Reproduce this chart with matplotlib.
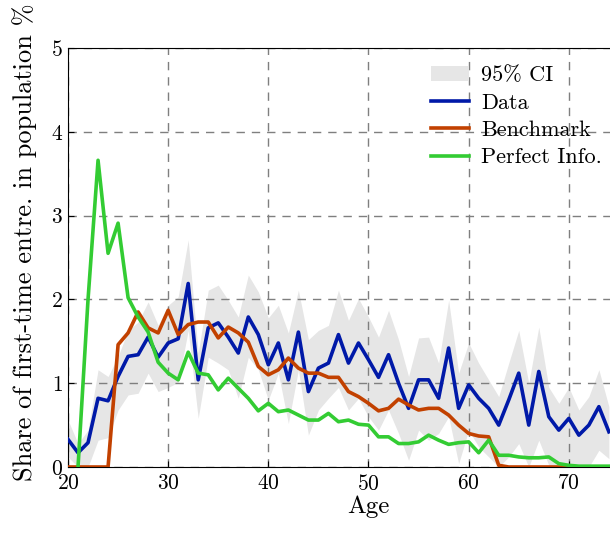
import matplotlib
matplotlib.use("Agg")
import matplotlib.pyplot as plt
import numpy as np

plt.rcParams['font.family'] = 'serif'
plt.rcParams['font.serif'] = ['cmr10', 'DejaVu Serif']
plt.rcParams['mathtext.fontset'] = 'cm'
plt.rcParams['axes.formatter.use_mathtext'] = True

ages = np.arange(20, 75)

data = [0.33, 0.17, 0.29, 0.82, 0.79, 1.08, 1.32, 1.34, 1.55, 1.31,
        1.48, 1.53, 2.19, 1.04, 1.66, 1.72, 1.55, 1.36, 1.79, 1.58,
        1.22, 1.48, 1.04, 1.61, 0.90, 1.18, 1.24, 1.58, 1.24, 1.48,
        1.28, 1.07, 1.34, 1.00, 0.70, 1.04, 1.04, 0.82, 1.42, 0.70,
        0.98, 0.82, 0.70, 0.50, 0.80, 1.12, 0.50, 1.14, 0.60, 0.44,
        0.58, 0.38, 0.50, 0.72, 0.42]

benchmark = [0.0, 0.0, 0.0, 0.0, 0.0, 1.46, 1.60, 1.85, 1.66, 1.60,
             1.87, 1.58, 1.70, 1.73, 1.73, 1.54, 1.67, 1.60, 1.49, 1.20,
             1.10, 1.16, 1.30, 1.18, 1.12, 1.12, 1.07, 1.07, 0.90, 0.84,
             0.76, 0.67, 0.70, 0.81, 0.74, 0.68, 0.70, 0.70, 0.62, 0.50,
             0.40, 0.37, 0.36, 0.02, 0.0, 0.0, 0.0, 0.0, 0.0, 0.0,
             0.0, 0.0, 0.0, 0.0, 0.0]

perfect = [np.nan, 0.0, 2.0, 3.66, 2.55, 2.91, 2.02, 1.79, 1.61, 1.25,
           1.12, 1.04, 1.37, 1.12, 1.10, 0.92, 1.06, 0.94, 0.82, 0.67,
           0.76, 0.66, 0.68, 0.62, 0.56, 0.56, 0.64, 0.54, 0.56, 0.51,
           0.50, 0.36, 0.36, 0.28, 0.28, 0.30, 0.38, 0.32, 0.27, 0.29,
           0.30, 0.17, 0.32, 0.14, 0.14, 0.12, 0.11, 0.11, 0.12, 0.04,
           0.02, 0.01, 0.01, 0.01, 0.01]

ci_upper = [0.56, 0.28, 0.44, 1.16, 1.08, 1.32, 1.63, 1.73, 1.97, 1.69,
            1.93, 2.03, 2.71, 1.36, 2.11, 2.17, 1.99, 1.79, 2.29, 2.09,
            1.78, 1.93, 1.60, 2.11, 1.52, 1.63, 1.69, 2.11, 1.75, 2.01,
            1.79, 1.55, 1.87, 1.52, 1.08, 1.54, 1.55, 1.24, 1.99, 1.12,
            1.48, 1.24, 1.04, 0.84, 1.24, 1.63, 1.00, 1.67, 0.95, 0.76,
            0.95, 0.68, 0.84, 1.16, 0.72]

ci_lower = [0.12, 0.0, 0.0, 0.32, 0.35, 0.68, 0.86, 0.88, 1.12, 0.90,
            0.95, 1.01, 1.63, 0.58, 1.31, 1.24, 1.16, 0.82, 1.31, 1.16,
            0.80, 1.12, 0.52, 1.16, 0.38, 0.68, 0.82, 0.95, 0.68, 0.82,
            0.60, 0.44, 0.68, 0.40, 0.08, 0.44, 0.32, 0.40, 0.60, 0.04,
            0.44, 0.24, 0.12, 0.0, 0.12, 0.28, 0.0, 0.32, 0.02, 0.0,
            0.0, 0.0, 0.0, 0.2, 0.1]

fig = plt.figure(figsize=(6.10, 5.39), dpi=100)
ax = fig.add_axes([68 / 610, 72 / 539, 601 / 610, 419 / 539])

ax.fill_between(ages, ci_lower, ci_upper, color='#e6e6e6', linewidth=0,
                label='95% CI', zorder=1)
ax.plot(ages, data, color='#0019a8', lw=2.6, label='Data', zorder=3)
ax.plot(ages, benchmark, color='#c24100', lw=2.6, label='Benchmark', zorder=3)
ax.plot(ages, perfect, color='#33cc33', lw=2.6, label='Perfect Info.', zorder=3)

ax.set_xlim(20, 80)
ax.set_ylim(0, 5)
ax.set_xticks([20, 30, 40, 50, 60, 70, 80])
ax.set_yticks([0, 1, 2, 3, 4, 5])
ax.tick_params(direction='in', labelsize=15.5, length=4)
ax.tick_params(axis='x', pad=5)
ax.grid(True, linestyle=(0, (6, 5)), color='#7f7f7f', linewidth=1.0)
for g in ax.get_xgridlines() + ax.get_ygridlines():
    g.set_zorder(2)

ax.set_xlabel('Age', fontsize=18, labelpad=1)
ax.set_ylabel('Share of first-time entre. in population %', fontsize=19)
ax.yaxis.set_label_coords(-0.052, 0.537)

ax.legend(loc='upper left', bbox_to_anchor=(422 / 610, 1 - 57 / 539),
          bbox_transform=fig.transFigure, frameon=False, fontsize=16,
          handlelength=1.7, handletextpad=0.55, labelspacing=0.35,
          borderaxespad=0)

fig.savefig('out.png', dpi=100)
